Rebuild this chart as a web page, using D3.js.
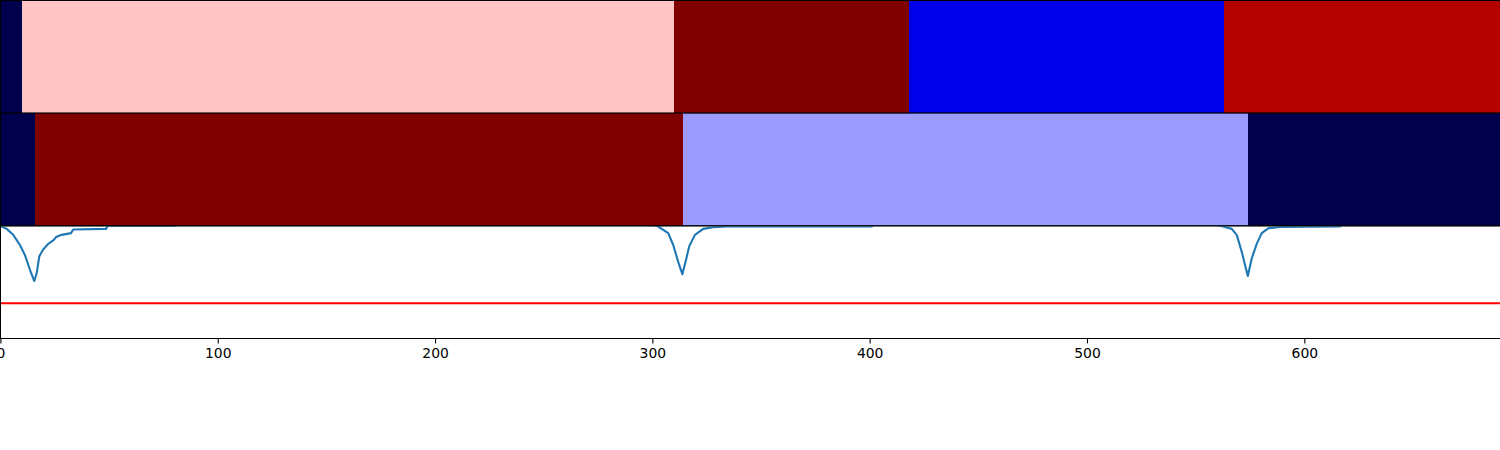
<!DOCTYPE html>
<html><head><meta charset="utf-8">
<script src="https://cdn.jsdelivr.net/npm/d3@7"></script>
<style>body{margin:0;background:#fff;}svg{display:block;}</style>
</head><body>
<script>
// --- data ---
const xMax = 690;
// panel 1 segments: [start, end] and colormap value (seismic 0..1)
const seg1Starts = [0, 10, 310, 418, 563];
const seg1Ends   = [10, 310, 418, 563, 690];
const seg1Vals   = [0.0, 0.557, 1.0, 0.221, 0.895];
// panel 2 segments
const seg2Starts = [0, 16, 314, 574];
const seg2Ends   = [16, 314, 574, 690];
const seg2Vals   = [0.0, 1.0, 0.402, 0.0];
// panel 3 signal
const sigX = [0, 0.6, 2.9, 5.9, 9.0, 11.3, 13.6, 15.6, 16.7, 17.9, 19.7, 22.0, 24.3, 25.6, 28.2, 32.5, 33.5, 48.6, 49.4, 80.3, 81.3,
  298.9, 302.7, 307.3, 309.6, 311.9, 313.8, 315.5, 317.0, 319.6, 323.4, 328.0, 334.2, 401.1, 402.0,
  556.6, 562.7, 566.6, 568.9, 571.2, 574.0, 575.8, 578.1, 580.4, 583.4, 588.8, 616.4, 617.8, 690];
const sigY = [0.995, 0.994, 0.973, 0.92, 0.83, 0.74, 0.61, 0.51, 0.58, 0.73, 0.79, 0.84, 0.87, 0.90, 0.92, 0.935, 0.967, 0.973, 1.0, 1.0, 1.02,
  1.02, 0.994, 0.935, 0.83, 0.68, 0.57, 0.70, 0.82, 0.92, 0.973, 0.988, 0.994, 0.995, 1.02,
  1.02, 0.994, 0.973, 0.92, 0.77, 0.555, 0.71, 0.84, 0.935, 0.978, 0.99, 0.995, 1.02, 1.02];
const threshold = 0.3125;
const xTicks = [0, 100, 200, 300, 400, 500, 600];

// --- layout ---
const W = 1500, H = 450;
const mLeft = 0.4, mRight = 1499.9, mTop = 0.5, mBottom = 338.5;
const ph = (mBottom - mTop) / 3;

const svg = d3.select("body").append("svg").attr("width", W).attr("height", H);
const x = d3.scaleLinear().domain([0, xMax]).range([mLeft, mRight]);
const seismic = d3.scaleLinear()
  .domain([0, 0.25, 0.5, 0.75, 1])
  .range(["rgb(0,0,76)", "rgb(0,0,255)", "rgb(255,255,255)", "rgb(255,0,0)", "rgb(128,0,0)"])
  .interpolate(d3.interpolateRgb);

function segPanel(i, starts, ends, vals) {
  const y0 = mTop + i * ph;
  const g = svg.append("g");
  g.selectAll("rect.s").data(vals).enter().append("rect")
    .attr("x", (d, k) => x(starts[k]))
    .attr("width", (d, k) => x(ends[k]) - x(starts[k]))
    .attr("y", y0).attr("height", ph)
    .attr("fill", d => seismic(d))
    .attr("shape-rendering", "crispEdges");
  g.append("rect").attr("x", 0.5).attr("y", y0).attr("width", W).attr("height", ph)
    .attr("fill", "none").attr("stroke", "#000").attr("stroke-width", 1);
}
segPanel(0, seg1Starts, seg1Ends, seg1Vals);
segPanel(1, seg2Starts, seg2Ends, seg2Vals);

// panel 3
const y3top = mTop + 2 * ph;
const y = d3.scaleLinear().domain([0, 1]).range([mBottom, y3top]);
svg.append("clipPath").attr("id", "c3").append("rect")
  .attr("x", 0).attr("y", y3top + 0.5).attr("width", W).attr("height", ph);
const g3 = svg.append("g").attr("clip-path", "url(#c3)");
g3.append("path").datum(sigX)
  .attr("d", d3.line().x(d => x(d)).y((d, k) => y(sigY[k])))
  .attr("fill", "none").attr("stroke", "#1f77b4").attr("stroke-width", 2.1).attr("stroke-linejoin", "round");
g3.append("line").attr("x1", x(0)).attr("x2", x(xMax)).attr("y1", y(threshold)).attr("y2", y(threshold))
  .attr("stroke", "#ff0000").attr("stroke-width", 2.1);
svg.append("rect").attr("x", 0.5).attr("y", y3top).attr("width", W).attr("height", ph)
  .attr("fill", "none").attr("stroke", "#000").attr("stroke-width", 1);

// x axis
const ax = svg.append("g").attr("transform", `translate(0,${mBottom})`)
  .call(d3.axisBottom(x).tickValues(xTicks).tickFormat(d3.format("d")).tickSizeOuter(0).tickSizeInner(4.9).tickPadding(4.8));
ax.select(".domain").remove();
ax.selectAll("text").attr("font-family", "DejaVu Sans").attr("font-size", "13.9px").attr("fill", "#000");
ax.selectAll("line").attr("stroke", "#000").attr("stroke-width", 1.1);
</script>
</body></html>
